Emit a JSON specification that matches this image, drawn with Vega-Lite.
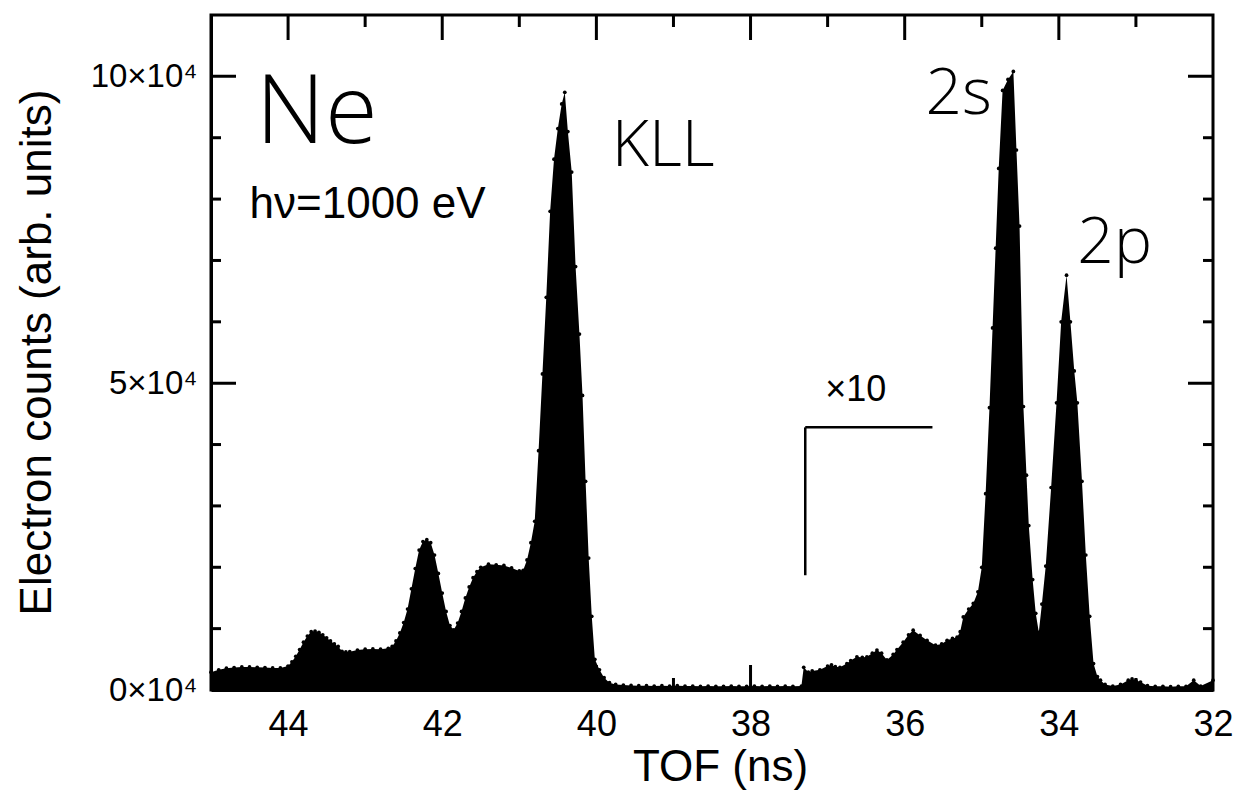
{
  "$schema": "https://vega.github.io/schema/vega-lite/v6.json",
  "width": 1002,
  "height": 675,
  "autosize": {"type": "none"},
  "padding": {"left": 211, "top": 15, "right": 25, "bottom": 106},
  "background": "white",
  "config": {
    "view": {"stroke": "black", "strokeWidth": 3},
    "font": "Liberation Sans",
    "axis": {
      "grid": false,
      "domainColor": "black",
      "domainWidth": 3,
      "tickColor": "black",
      "labelColor": "black",
      "titleColor": "black",
      "labelFont": "Liberation Sans",
      "titleFont": "Liberation Sans",
      "titleFontWeight": "normal"
    }
  },
  "datasets": {
    "spec": [
      {"t": 45.0, "c": 2900}, {"t": 44.9, "c": 3300}, {"t": 44.8, "c": 3550}, {"t": 44.7, "c": 3650},
      {"t": 44.6, "c": 3750}, {"t": 44.5, "c": 3750}, {"t": 44.4, "c": 3700}, {"t": 44.3, "c": 3650},
      {"t": 44.2, "c": 3600}, {"t": 44.1, "c": 3600}, {"t": 44.0, "c": 3900}, {"t": 43.95, "c": 4600},
      {"t": 43.9, "c": 5500}, {"t": 43.85, "c": 6600}, {"t": 43.8, "c": 7800}, {"t": 43.75, "c": 8800},
      {"t": 43.7, "c": 9500}, {"t": 43.65, "c": 9600}, {"t": 43.6, "c": 9400}, {"t": 43.55, "c": 9000},
      {"t": 43.5, "c": 8500}, {"t": 43.45, "c": 8000}, {"t": 43.4, "c": 7500}, {"t": 43.35, "c": 7100},
      {"t": 43.3, "c": 6300}, {"t": 43.25, "c": 6200}, {"t": 43.2, "c": 6250}, {"t": 43.1, "c": 6500},
      {"t": 43.0, "c": 6650}, {"t": 42.9, "c": 6700}, {"t": 42.8, "c": 6650}, {"t": 42.7, "c": 6800},
      {"t": 42.65, "c": 7100}, {"t": 42.6, "c": 8000}, {"t": 42.55, "c": 9300}, {"t": 42.5, "c": 11000},
      {"t": 42.45, "c": 13200}, {"t": 42.4, "c": 16500}, {"t": 42.35, "c": 19800}, {"t": 42.3, "c": 22800},
      {"t": 42.25, "c": 24200}, {"t": 42.2, "c": 24500}, {"t": 42.15, "c": 24000}, {"t": 42.1, "c": 22000},
      {"t": 42.05, "c": 19000}, {"t": 42.0, "c": 15800}, {"t": 41.95, "c": 12800}, {"t": 41.9, "c": 10500},
      {"t": 41.85, "c": 9800}, {"t": 41.8, "c": 10900}, {"t": 41.75, "c": 12800}, {"t": 41.7, "c": 15000},
      {"t": 41.65, "c": 16800}, {"t": 41.6, "c": 18300}, {"t": 41.55, "c": 19300}, {"t": 41.5, "c": 20000},
      {"t": 41.4, "c": 20500}, {"t": 41.3, "c": 20400}, {"t": 41.2, "c": 20300}, {"t": 41.1, "c": 19900},
      {"t": 41.0, "c": 19400}, {"t": 40.95, "c": 19500}, {"t": 40.9, "c": 21200}, {"t": 40.85, "c": 24000},
      {"t": 40.8, "c": 27500}, {"t": 40.75, "c": 39000}, {"t": 40.7, "c": 51500}, {"t": 40.65, "c": 64000},
      {"t": 40.6, "c": 78000}, {"t": 40.55, "c": 86500}, {"t": 40.5, "c": 91500}, {"t": 40.45, "c": 95500},
      {"t": 40.41, "c": 97400}, {"t": 40.37, "c": 91000}, {"t": 40.32, "c": 84400}, {"t": 40.27, "c": 69000},
      {"t": 40.22, "c": 58000}, {"t": 40.18, "c": 48000}, {"t": 40.14, "c": 34000}, {"t": 40.1, "c": 21500},
      {"t": 40.06, "c": 12000}, {"t": 40.02, "c": 5000}, {"t": 39.96, "c": 3300}, {"t": 39.9, "c": 2000},
      {"t": 39.83, "c": 1200}, {"t": 39.75, "c": 900}, {"t": 39.65, "c": 800}, {"t": 39.55, "c": 750},
      {"t": 39.45, "c": 700}, {"t": 39.35, "c": 700}, {"t": 39.25, "c": 650}, {"t": 39.15, "c": 700},
      {"t": 39.05, "c": 650}, {"t": 38.95, "c": 700}, {"t": 38.85, "c": 650}, {"t": 38.75, "c": 650},
      {"t": 38.65, "c": 600}, {"t": 38.55, "c": 650}, {"t": 38.45, "c": 600}, {"t": 38.35, "c": 600},
      {"t": 38.25, "c": 650}, {"t": 38.15, "c": 600}, {"t": 38.05, "c": 600}, {"t": 37.95, "c": 650},
      {"t": 37.85, "c": 600}, {"t": 37.75, "c": 650}, {"t": 37.65, "c": 600}, {"t": 37.55, "c": 650},
      {"t": 37.45, "c": 600}, {"t": 37.34, "c": 650}, {"t": 37.31, "c": 3700}, {"t": 37.25, "c": 2900},
      {"t": 37.2, "c": 3100}, {"t": 37.1, "c": 3300}, {"t": 37.0, "c": 3900}, {"t": 36.95, "c": 4100},
      {"t": 36.9, "c": 3800}, {"t": 36.84, "c": 3700}, {"t": 36.75, "c": 4300}, {"t": 36.7, "c": 4800},
      {"t": 36.62, "c": 5400}, {"t": 36.55, "c": 5300}, {"t": 36.49, "c": 5400}, {"t": 36.42, "c": 6000},
      {"t": 36.36, "c": 6500}, {"t": 36.3, "c": 6000}, {"t": 36.23, "c": 4900}, {"t": 36.15, "c": 5800},
      {"t": 36.1, "c": 6600}, {"t": 36.02, "c": 7800}, {"t": 35.95, "c": 9000}, {"t": 35.89, "c": 9750},
      {"t": 35.8, "c": 8900}, {"t": 35.71, "c": 8100}, {"t": 35.6, "c": 7300}, {"t": 35.52, "c": 7500},
      {"t": 35.45, "c": 8100}, {"t": 35.38, "c": 8400}, {"t": 35.32, "c": 8600}, {"t": 35.28, "c": 9500},
      {"t": 35.24, "c": 11900}, {"t": 35.17, "c": 13200}, {"t": 35.11, "c": 14100}, {"t": 35.05, "c": 16000},
      {"t": 35.0, "c": 20000}, {"t": 34.95, "c": 32000}, {"t": 34.9, "c": 46000}, {"t": 34.86, "c": 59000},
      {"t": 34.82, "c": 72000}, {"t": 34.78, "c": 85000}, {"t": 34.73, "c": 97700}, {"t": 34.66, "c": 99500},
      {"t": 34.59, "c": 100800}, {"t": 34.55, "c": 88000}, {"t": 34.51, "c": 75600}, {"t": 34.46, "c": 46200},
      {"t": 34.42, "c": 35000}, {"t": 34.39, "c": 26800}, {"t": 34.34, "c": 18000}, {"t": 34.3, "c": 12500},
      {"t": 34.26, "c": 9400}, {"t": 34.22, "c": 14000}, {"t": 34.17, "c": 20200}, {"t": 34.1, "c": 33000},
      {"t": 34.03, "c": 46800}, {"t": 33.97, "c": 60000}, {"t": 33.9, "c": 67600}, {"t": 33.85, "c": 60000},
      {"t": 33.8, "c": 52000}, {"t": 33.76, "c": 46800}, {"t": 33.7, "c": 34000}, {"t": 33.65, "c": 22000},
      {"t": 33.6, "c": 12000}, {"t": 33.55, "c": 4300}, {"t": 33.5, "c": 2200}, {"t": 33.46, "c": 1600},
      {"t": 33.4, "c": 900}, {"t": 33.3, "c": 650}, {"t": 33.2, "c": 900}, {"t": 33.1, "c": 1600},
      {"t": 33.05, "c": 1800}, {"t": 33.0, "c": 1600}, {"t": 32.94, "c": 1300}, {"t": 32.85, "c": 700},
      {"t": 32.75, "c": 600}, {"t": 32.65, "c": 600}, {"t": 32.55, "c": 550}, {"t": 32.45, "c": 600},
      {"t": 32.35, "c": 600}, {"t": 32.25, "c": 1600}, {"t": 32.16, "c": 650}, {"t": 32.0, "c": 1600}
    ],
    "xMajor": [{"v": 44}, {"v": 42}, {"v": 40}, {"v": 38}, {"v": 36}, {"v": 34}],
    "xMinor": [{"v": 43}, {"v": 41}, {"v": 39}, {"v": 37}, {"v": 35}, {"v": 33}],
    "yMajor": [{"v": 50000}, {"v": 100000}],
    "yMinor": [{"v": 10000}, {"v": 20000}, {"v": 30000}, {"v": 40000}, {"v": 60000}, {"v": 70000}, {"v": 80000}, {"v": 90000}],
    "bracket": [
      {"t": 37.29, "t2": 37.29, "c": 18700, "c2": 42800},
      {"t": 37.29, "t2": 35.64, "c": 42800, "c2": 42800}
    ],
    "bigLabels": [
      {"t": 44.42, "c": 89100, "label": "Ne"}
    ],
    "peakLabels": [
      {"t": 39.8, "c": 85400, "label": "KLL"},
      {"t": 35.73, "c": 93800, "label": "2s"},
      {"t": 33.76, "c": 69600, "label": "2p"}
    ],
    "energyLabel": [
      {"t": 44.5, "c": 77000, "label": "hν=1000 eV"}
    ],
    "scaleLabel": [
      {"t": 37.03, "c": 47150, "label": "×10"}
    ]
  },
  "layer": [
    {
      "data": {"name": "spec"},
      "mark": {"type": "area", "color": "black", "interpolate": "linear"},
      "encoding": {
        "x": {
          "field": "t", "type": "quantitative",
          "scale": {"domain": [32, 45], "reverse": true, "nice": false, "zero": false},
          "axis": {
            "orient": "bottom",
            "title": "TOF (ns)",
            "values": [32, 34, 36, 38, 40, 42, 44],
            "ticks": false,
            "labelFlush": false,
            "labelFontSize": 36,
            "labelPadding": 17,
            "titleFontSize": 44,
            "titleX": 509,
            "titleY": 90,
            "titleBaseline": "alphabetic",
            "titleAnchor": "middle",
            "titleAlign": "center"
          }
        },
        "y": {
          "field": "c", "type": "quantitative",
          "scale": {"domain": [0, 110000], "nice": false, "zero": true},
          "axis": {
            "orient": "left",
            "title": "Electron counts (arb. units)",
            "values": [0, 50000, 100000],
            "ticks": false,
            "labelExpr": "(datum.value / 10000) + '×10⁴'",
            "labelFontSize": 33,
            "labelPadding": 14,
            "titleFontSize": 44,
            "titleX": -174,
            "titleY": 337,
            "titleBaseline": "middle",
            "titleAngle": -90,
            "titleAlign": "center"
          }
        }
      }
    },
    {
      "data": {"name": "spec"},
      "mark": {"type": "point", "filled": true, "color": "black", "size": 14, "opacity": 1},
      "encoding": {
        "x": {"field": "t", "type": "quantitative", "axis": null},
        "y": {"field": "c", "type": "quantitative", "axis": null}
      }
    },
    {
      "data": {"name": "xMajor"},
      "mark": {"type": "tick", "orient": "vertical", "size": 50, "thickness": 3, "color": "black", "opacity": 1, "clip": true},
      "encoding": {
        "x": {"field": "v", "type": "quantitative", "axis": null},
        "y": {"datum": 0, "type": "quantitative", "axis": null}
      }
    },
    {
      "data": {"name": "xMajor"},
      "mark": {"type": "tick", "orient": "vertical", "size": 50, "thickness": 3, "color": "black", "opacity": 1, "clip": true},
      "encoding": {
        "x": {"field": "v", "type": "quantitative", "axis": null},
        "y": {"datum": 110000, "type": "quantitative", "axis": null}
      }
    },
    {
      "data": {"name": "xMinor"},
      "mark": {"type": "tick", "orient": "vertical", "size": 24, "thickness": 3, "color": "black", "opacity": 1, "clip": true},
      "encoding": {
        "x": {"field": "v", "type": "quantitative", "axis": null},
        "y": {"datum": 0, "type": "quantitative", "axis": null}
      }
    },
    {
      "data": {"name": "xMinor"},
      "mark": {"type": "tick", "orient": "vertical", "size": 24, "thickness": 3, "color": "black", "opacity": 1, "clip": true},
      "encoding": {
        "x": {"field": "v", "type": "quantitative", "axis": null},
        "y": {"datum": 110000, "type": "quantitative", "axis": null}
      }
    },
    {
      "data": {"name": "yMajor"},
      "mark": {"type": "tick", "orient": "horizontal", "size": 50, "thickness": 3, "color": "black", "opacity": 1, "clip": true},
      "encoding": {
        "y": {"field": "v", "type": "quantitative", "axis": null},
        "x": {"datum": 45, "type": "quantitative", "axis": null}
      }
    },
    {
      "data": {"name": "yMajor"},
      "mark": {"type": "tick", "orient": "horizontal", "size": 50, "thickness": 3, "color": "black", "opacity": 1, "clip": true},
      "encoding": {
        "y": {"field": "v", "type": "quantitative", "axis": null},
        "x": {"datum": 32, "type": "quantitative", "axis": null}
      }
    },
    {
      "data": {"name": "yMinor"},
      "mark": {"type": "tick", "orient": "horizontal", "size": 20, "thickness": 3, "color": "black", "opacity": 1, "clip": true},
      "encoding": {
        "y": {"field": "v", "type": "quantitative", "axis": null},
        "x": {"datum": 45, "type": "quantitative", "axis": null}
      }
    },
    {
      "data": {"name": "yMinor"},
      "mark": {"type": "tick", "orient": "horizontal", "size": 20, "thickness": 3, "color": "black", "opacity": 1, "clip": true},
      "encoding": {
        "y": {"field": "v", "type": "quantitative", "axis": null},
        "x": {"datum": 32, "type": "quantitative", "axis": null}
      }
    },
    {
      "data": {"name": "bracket"},
      "mark": {"type": "rule", "color": "black", "strokeWidth": 2.5},
      "encoding": {
        "x": {"field": "t", "type": "quantitative", "axis": null},
        "x2": {"field": "t2"},
        "y": {"field": "c", "type": "quantitative", "axis": null},
        "y2": {"field": "c2"}
      }
    },
    {
      "data": {"name": "bigLabels"},
      "mark": {"type": "text", "font": "Open Sans", "fontWeight": 300, "fontSize": 96, "align": "left", "baseline": "alphabetic", "color": "black"},
      "encoding": {
        "x": {"field": "t", "type": "quantitative", "axis": null},
        "y": {"field": "c", "type": "quantitative", "axis": null},
        "text": {"field": "label"}
      }
    },
    {
      "data": {"name": "peakLabels"},
      "mark": {"type": "text", "font": "Open Sans", "fontWeight": 300, "fontSize": 64, "align": "left", "baseline": "alphabetic", "color": "black"},
      "encoding": {
        "x": {"field": "t", "type": "quantitative", "axis": null},
        "y": {"field": "c", "type": "quantitative", "axis": null},
        "text": {"field": "label"}
      }
    },
    {
      "data": {"name": "energyLabel"},
      "mark": {"type": "text", "font": "Liberation Sans", "fontSize": 44, "align": "left", "baseline": "alphabetic", "color": "black"},
      "encoding": {
        "x": {"field": "t", "type": "quantitative", "axis": null},
        "y": {"field": "c", "type": "quantitative", "axis": null},
        "text": {"field": "label"}
      }
    },
    {
      "data": {"name": "scaleLabel"},
      "mark": {"type": "text", "font": "Liberation Sans", "fontSize": 36, "align": "left", "baseline": "alphabetic", "color": "black"},
      "encoding": {
        "x": {"field": "t", "type": "quantitative", "axis": null},
        "y": {"field": "c", "type": "quantitative", "axis": null},
        "text": {"field": "label"}
      }
    }
  ],
  "resolve": {"axis": {"x": "independent", "y": "independent"}}
}
